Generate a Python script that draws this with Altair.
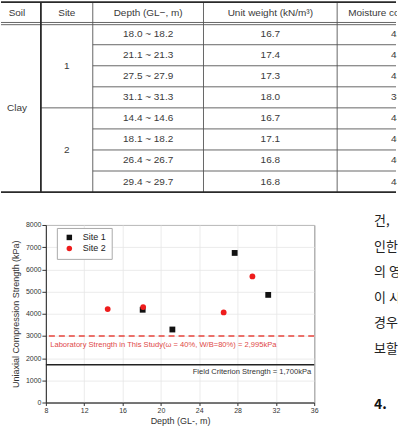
import altair as alt
import pandas as pd

# ================= data =================
header_texts = ["Soil", "Site", "Depth (GL−, m)", "Unit weight (kN/m³)", "Moisture content (%)"]
soil_name = "Clay"
site_names = ["1", "2"]
depth_ranges = ["18.0  ~  18.2", "21.1  ~  21.3", "27.5  ~  27.9", "31.1  ~  31.3",
                "14.4  ~  14.6", "18.1  ~  18.2", "26.4  ~  26.7", "29.4  ~  29.7"]
unit_weights = ["16.7", "17.4", "17.3", "18.0", "16.7", "17.1", "16.8", "16.8"]
moisture_contents = ["42.6", "41.8", "42.3", "38.5", "44.7", "46.3", "46.0", "44.9"]

series_names = ["Site 1", "Site 2"]
site1_depth = [18.1, 21.2, 27.7, 31.2]
site1_strength = [4180, 3290, 6740, 4850]
site2_depth = [14.45, 18.15, 26.55, 29.55]
site2_strength = [4210, 4300, 4060, 5680]

lab_strength = 2995
field_strength = 1700
lab_label = "Laboratory Strength in This Study(ω = 40%, W/B=80%) = 2,995kPa"
field_label = "Field Criterion Strength = 1,700kPa"

x_tick_values = [8, 12, 16, 20, 24, 28, 32, 36]
y_tick_values = [0, 1000, 2000, 3000, 4000, 5000, 6000, 7000, 8000]

body_lines = ["건,", "인한 ", "의 영", "이 시", "경우 ", "보할 "]
heading_text = "4."

# ================= layout (pixels) =================
PAGE_W = 398
PLOT_LEFT = 46
PLOT_W, PLOT_H = 269, 178
TABLE_H = 194
COL_X = [41, 93, 204, 338]              # vertical borders
COL_CENTER = [17, 67, 148.5, 271]
MOIST_HEAD_X, MOIST_VAL_X = 349, 392
HEAD_TOP, HEAD_BOT, ROW_H = 1.5, 23.2, 21.1
LOWER_TOP = 200                          # top of the lower row
V_GAP = LOWER_TOP - TABLE_H
TOP_SPACER = 20
KOR_X = 374
KOR_H = 222
KOR_Y = [221, 247, 272, 298, 323, 349]   # absolute centres of body lines
KOR_HEAD_Y = 405
SCATTER_RIGHT_EXTENT = 273
LAB_POS = (8.45, 2600)
FIELD_POS = (35.7, 1380)
FONT = "Liberation Sans"
KFONT = "Noto Sans CJK KR"

# ================= table =================
tx = alt.Scale(domain=[PLOT_LEFT, PAGE_W], nice=False, zero=False)
ty = alt.Scale(domain=[0, TABLE_H], nice=False, zero=False, reverse=True)

hdr_y = (HEAD_TOP + HEAD_BOT) / 2
center_cells = []
for t, cx in zip(header_texts[:4], COL_CENTER):
    center_cells.append({"x": cx, "y": hdr_y, "t": t})
center_cells.append({"x": COL_CENTER[0], "y": HEAD_BOT + ROW_H * 4, "t": soil_name})
center_cells.append({"x": COL_CENTER[1], "y": HEAD_BOT + ROW_H * 2, "t": site_names[0]})
center_cells.append({"x": COL_CENTER[1], "y": HEAD_BOT + ROW_H * 6, "t": site_names[1]})
for i in range(8):
    ry = HEAD_BOT + ROW_H * (i + 0.5)
    center_cells.append({"x": COL_CENTER[2], "y": ry, "t": depth_ranges[i]})
    center_cells.append({"x": COL_CENTER[3], "y": ry, "t": unit_weights[i]})
center_df = pd.DataFrame(center_cells)

left_cells = [{"x": MOIST_HEAD_X, "y": hdr_y, "t": header_texts[4]}]
for i in range(8):
    left_cells.append({"x": MOIST_VAL_X, "y": HEAD_BOT + ROW_H * (i + 0.5), "t": moisture_contents[i]})
left_df = pd.DataFrame(left_cells)

bottom_y = HEAD_BOT + ROW_H * 8
thick = [
    {"x": 1, "x2": PAGE_W - 1, "y": HEAD_TOP, "y2": HEAD_TOP},
    {"x": 1, "x2": PAGE_W - 1, "y": bottom_y, "y2": bottom_y},
]
thin = [
    {"x": 1, "x2": PAGE_W - 1, "y": HEAD_BOT - 1.2, "y2": HEAD_BOT - 1.2},
    {"x": 1, "x2": PAGE_W - 1, "y": HEAD_BOT + 1.0, "y2": HEAD_BOT + 1.0},
]
for i in range(1, 8):
    yy = HEAD_BOT + ROW_H * i
    thin.append({"x": COL_X[0] if i == 4 else COL_X[1], "x2": PAGE_W - 1, "y": yy, "y2": yy})
for k, cx in enumerate(COL_X):
    (thick if k == 0 else thin).append({"x": cx, "x2": cx, "y": HEAD_TOP, "y2": bottom_y})


def rule_layer(rows, width, color):
    return alt.Chart(pd.DataFrame(rows)).mark_rule(strokeWidth=width, color=color).encode(
        x=alt.X("x:Q", scale=tx, axis=None), x2="x2:Q",
        y=alt.Y("y:Q", scale=ty, axis=None), y2="y2:Q")


table = alt.layer(
    rule_layer(thin, 0.9, "#555555"),
    rule_layer(thick, 1.8, "#2a2a2a"),
    alt.Chart(center_df).mark_text(font=FONT, fontSize=10, color="#3a3a3a", baseline="middle", align="center").encode(
        x=alt.X("x:Q", scale=tx, axis=None), y=alt.Y("y:Q", scale=ty, axis=None), text="t:N"),
    alt.Chart(left_df).mark_text(font=FONT, fontSize=10, color="#3a3a3a", baseline="middle", align="left", clip=True).encode(
        x=alt.X("x:Q", scale=tx, axis=None), y=alt.Y("y:Q", scale=ty, axis=None), text="t:N"),
).properties(width=PAGE_W - PLOT_LEFT, height=TABLE_H, view=alt.ViewBackground(stroke=None))

# ================= scatter =================
def xenc():
    return alt.X("depth:Q", scale=alt.Scale(domain=[8, 36], nice=False, zero=False),
                 axis=alt.Axis(values=x_tick_values, title="Depth (GL-, m)", tickSize=3, labelPadding=1,
                               titlePadding=3, grid=True, labelFlush=False, format="d"))


def yenc():
    return alt.Y("strength:Q", scale=alt.Scale(domain=[0, 8000], nice=False, zero=False),
                 axis=alt.Axis(values=y_tick_values, title="Uniaxial Compression Strength (kPa)", tickSize=4,
                               labelPadding=1, titlePadding=5, grid=True, labelFlush=False, format="d"))


pts = pd.DataFrame({
    "depth": site1_depth + site2_depth,
    "strength": site1_strength + site2_strength,
    "site": [series_names[0]] * len(site1_depth) + [series_names[1]] * len(site2_depth),
})
leg = alt.Legend(title=None, orient="none", legendX=11, legendY=228, padding=5, strokeColor="#aaaaaa",
                 fillColor="white", labelFont=FONT, labelFontSize=9, labelColor="#222222",
                 symbolSize=30, symbolOffset=3, labelOffset=9, rowPadding=1, symbolStrokeWidth=0)
points = alt.Chart(pts).mark_point(filled=True, opacity=1, size=34).encode(
    x=xenc(), y=yenc(),
    color=alt.Color("site:N", scale=alt.Scale(domain=series_names, range=["#111111", "#ee1c1c"]), legend=leg),
    shape=alt.Shape("site:N", scale=alt.Scale(domain=series_names, range=["square", "circle"]), legend=leg),
)
lab_rule = alt.Chart(pd.DataFrame({"strength": [lab_strength]})).mark_rule(
    color="#e8443c", strokeWidth=1.6, strokeDash=[6, 4]).encode(y=yenc())
field_rule = alt.Chart(pd.DataFrame({"strength": [field_strength]})).mark_rule(
    color="#222222", strokeWidth=1.4).encode(y=yenc())
lab_text = alt.Chart(pd.DataFrame({"depth": [LAB_POS[0]], "strength": [LAB_POS[1]], "label": [lab_label]})).mark_text(
    font=FONT, fontSize=7.6, color="#e04848", align="left", baseline="middle").encode(x=xenc(), y=yenc(), text="label:N")
field_text = alt.Chart(pd.DataFrame({"depth": [FIELD_POS[0]], "strength": [FIELD_POS[1]], "label": [field_label]})).mark_text(
    font=FONT, fontSize=7.6, color="#333333", align="right", baseline="middle").encode(x=xenc(), y=yenc(), text="label:N")

scatter = alt.layer(lab_rule, field_rule, points, lab_text, field_text).properties(
    width=PLOT_W, height=PLOT_H, view=alt.ViewBackground(stroke="#333333", strokeWidth=1))

spacer = alt.Chart(pd.DataFrame({"a": [0]})).mark_point(opacity=0, size=1).encode(
    x=alt.value(5), y=alt.value(5)).properties(width=10, height=TOP_SPACER, view=alt.ViewBackground(stroke=None))

scatter_col = alt.vconcat(spacer, scatter, spacing=0)

# ================= body text column (cut by the page edge) =================
kor_w = PAGE_W - KOR_X
kdf = pd.DataFrame({"x": [0] * len(body_lines), "y": [v - LOWER_TOP for v in KOR_Y], "t": body_lines})
hdf = pd.DataFrame({"x": [0], "y": [KOR_HEAD_Y - LOWER_TOP], "t": [heading_text]})
kx = alt.Scale(domain=[0, 1], nice=False, zero=False)
ky = alt.Scale(domain=[0, KOR_H], nice=False, zero=False, reverse=True)
korean = alt.layer(
    alt.Chart(kdf).mark_text(font=KFONT, fontSize=13, color="#222222", align="left", baseline="middle",
                             clip=True).encode(
        x=alt.X("x:Q", scale=kx, axis=None), y=alt.Y("y:Q", scale=ky, axis=None), text="t:N"),
    alt.Chart(hdf).mark_text(font=KFONT, fontSize=14, fontWeight="bold", color="#111111", align="left",
                             baseline="middle", clip=True).encode(
        x=alt.X("x:Q", scale=kx, axis=None), y=alt.Y("y:Q", scale=ky, axis=None), text="t:N"),
).properties(width=kor_w, height=KOR_H, view=alt.ViewBackground(stroke=None))

lower = alt.hconcat(scatter_col, korean, spacing=KOR_X - PLOT_LEFT - SCATTER_RIGHT_EXTENT)

chart = alt.vconcat(table, lower, spacing=V_GAP).properties(padding=0).configure_axis(
    labelFont=FONT, labelFontSize=7, labelColor="#333333", tickColor="#333333", domainColor="#333333",
    gridColor="#e6e6e6", gridWidth=0.8, titleFont=FONT, titleFontSize=9, titleColor="#333333",
    titleFontWeight="normal"
).configure_view(stroke=None)

chart.save("out.html", embed_options={"renderer": "svg", "actions": False})
